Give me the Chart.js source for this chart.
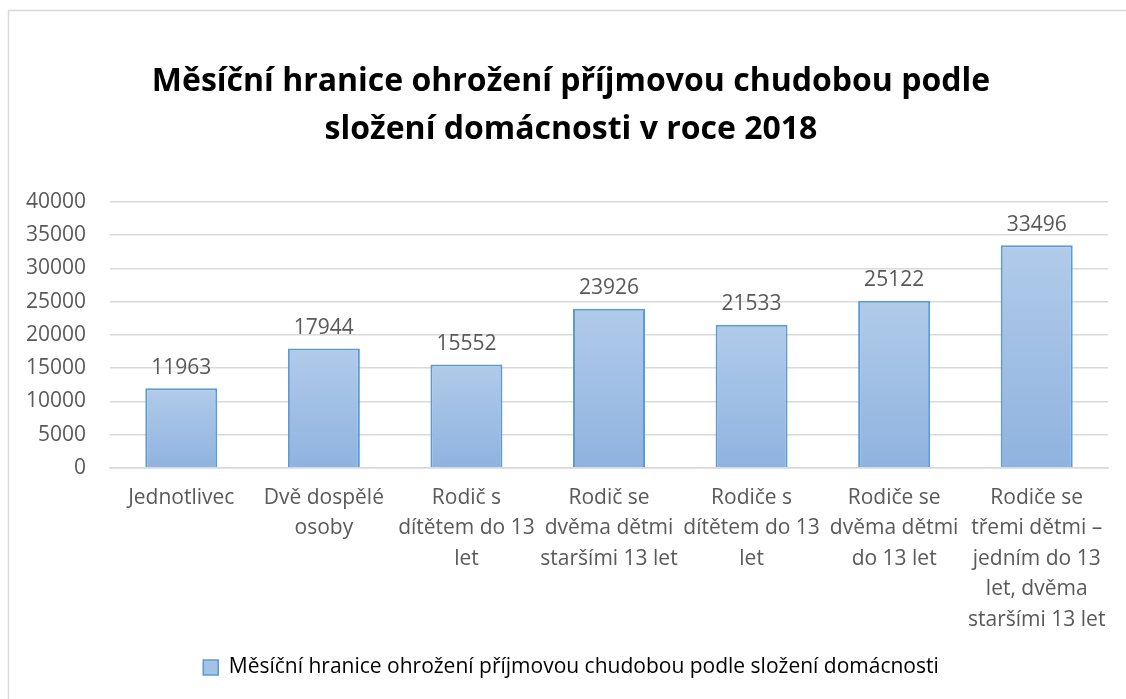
<!DOCTYPE html>
<html>
<head>
<meta charset="utf-8">
<script src="https://cdn.jsdelivr.net/npm/chart.js@4"></script>
<style>
  html, body { margin: 0; padding: 0; background: #fff; overflow: hidden; }
  #wrap { position: relative; width: 1126px; height: 699px; }
</style>
</head>
<body>
<div id="wrap"><canvas id="chart"></canvas></div>
<script>
// data
const categories = [
    ['Jednotlivec'],
    ['Dvě dospělé', 'osoby'],
    ['Rodič s', 'dítětem do 13', 'let'],
    ['Rodič se', 'dvěma dětmi', 'staršími 13 let'],
    ['Rodiče s', 'dítětem do 13', 'let'],
    ['Rodiče se', 'dvěma dětmi', 'do 13 let'],
    ['Rodiče se', 'třemi dětmi –', 'jedním do 13', 'let, dvěma', 'staršími 13 let']
];
const values = [11963, 17944, 15552, 23926, 21533, 25122, 33496];
const seriesName = 'Měsíční hranice ohrožení příjmovou chudobou podle složení domácnosti';
const titleLines = ['Měsíční hranice ohrožení příjmovou chudobou podle', 'složení domácnosti v roce 2018'];

const FONT = '"Open Sans", sans-serif';
const GRAY = '#595959';

// outer frame (left + top edge only, the rest is cut off)
const frame = {
    id: 'frame',
    beforeDraw(chart) {
        const ctx = chart.ctx;
        ctx.save();
        ctx.strokeStyle = '#d9d9d9';
        ctx.lineWidth = 1.5;
        ctx.beginPath();
        ctx.moveTo(8.5, chart.height);
        ctx.lineTo(8.5, 10.5);
        ctx.lineTo(chart.width, 10.5);
        ctx.stroke();
        ctx.restore();
    }
};

// value labels above bars
const valueLabels = {
    id: 'valueLabels',
    afterDatasetsDraw(chart) {
        const ctx = chart.ctx;
        const meta = chart.getDatasetMeta(0);
        ctx.save();
        ctx.font = '21px ' + FONT;
        ctx.fillStyle = GRAY;
        ctx.textAlign = 'center';
        ctx.textBaseline = 'bottom';
        meta.data.forEach((bar, i) => {
            ctx.fillText(String(values[i]), bar.x, bar.y - 10);
        });
        ctx.restore();
    }
};

function barFill(context) {
    const chart = context.chart;
    const area = chart.chartArea;
    if (!area || context.type !== 'data') return '#a4c2e6';
    const y = chart.scales.y;
    const top = y.getPixelForValue(context.parsed.y);
    const bottom = y.getPixelForValue(0);
    const g = chart.ctx.createLinearGradient(0, top, 0, bottom);
    g.addColorStop(0, '#b1cbea');
    g.addColorStop(1, '#8fb3df');
    return g;
}

new Chart(document.getElementById('chart'), {
    type: 'bar',
    data: {
        labels: categories,
        datasets: [{
            label: seriesName,
            data: values,
            backgroundColor: barFill,
            borderColor: '#5b9bd5',
            borderWidth: 2,
            borderSkipped: 'bottom',
            categoryPercentage: 1,
            barPercentage: 0.505
        }]
    },
    options: {
        responsive: true,
        maintainAspectRatio: false,
        animation: false,
        layout: { padding: { left: 34, right: 18, top: 58, bottom: 11 } },
        plugins: {
            title: {
                display: true,
                text: titleLines,
                color: '#000',
                font: { family: FONT, size: 32, weight: 'bold', lineHeight: 1.5 },
                padding: { top: 0, bottom: 48 }
            },
            legend: {
                position: 'bottom',
                labels: {
                    color: '#000',
                    font: { family: FONT, size: 21 },
                    boxWidth: 15,
                    boxHeight: 15,
                    padding: 7,
                    generateLabels(chart) {
                        return [{
                            text: seriesName,
                            fillStyle: '#a4c2e6',
                            strokeStyle: '#5b9bd5',
                            lineWidth: 1.5,
                            datasetIndex: 0
                        }];
                    }
                }
            },
            tooltip: { enabled: false }
        },
        scales: {
            x: {
                grid: { display: false, drawTicks: false },
                border: { color: '#d9d9d9', width: 1.5 },
                ticks: {
                    color: GRAY,
                    font: { family: FONT, size: 21, lineHeight: 1.45 },
                    padding: 15,
                    maxRotation: 0,
                    autoSkip: false
                }
            },
            y: {
                min: 0,
                max: 40000,
                grid: { color: '#d9d9d9', lineWidth: 1.5, drawTicks: false },
                border: { display: false },
                afterFit(scale) {
                    // narrower axis box so the title sits centred like the original;
                    // labels are allowed to spill left of it
                    scale.width = 76;
                    scale._computeLabelArea = () => undefined;
                },
                ticks: {
                    stepSize: 5000,
                    color: GRAY,
                    font: { family: FONT, size: 21 },
                    padding: 24,
                    callback: v => String(v)
                }
            }
        }
    },
    plugins: [frame, valueLabels]
});
</script>
</body>
</html>
